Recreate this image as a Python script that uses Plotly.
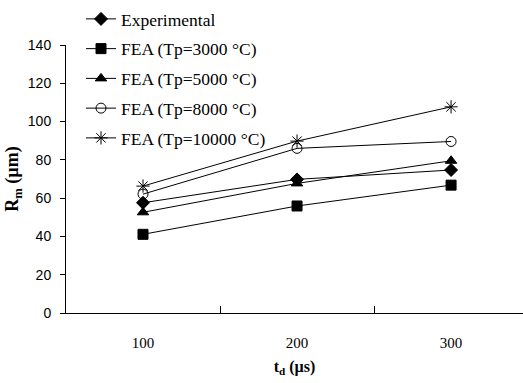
import plotly.graph_objects as go

categories = ["100", "200", "300"]
series_names = ["Experimental", "FEA (Tp=3000 °C)", "FEA (Tp=5000 °C)",
                "FEA (Tp=8000 °C)", "FEA (Tp=10000 °C)"]
experimental = [57.6, 69.8, 74.7]
fea_3000 = [41.1, 55.9, 66.8]
fea_5000 = [52.6, 67.7, 79.5]
fea_8000 = [62.1, 86.0, 89.6]
fea_10000 = [66.3, 89.8, 107.7]
y_ticks = [0, 20, 40, 60, 80, 100, 120, 140]

series = [experimental, fea_3000, fea_5000, fea_8000, fea_10000]
symbols = ["diamond", "square", "triangle-up", "circle-open", "asterisk-open"]
sizes = [10, 10, 10, 10, 11]

fig = go.Figure()
for i, (name, vals, sym, sz) in enumerate(zip(series_names, series, symbols, sizes)):
    fig.add_trace(go.Scatter(
        x=categories, y=vals, name=name, mode="lines+markers",
        line=dict(color="black", width=1),
        marker=dict(symbol=sym, size=sz, color="black",
                    line=dict(color="black", width=1)),
        legendgroup=f"g{i}",
    ))

fig.update_layout(
    width=523, height=383,
    margin=dict(l=66, r=0, t=45, b=70, autoexpand=False),
    paper_bgcolor="white", plot_bgcolor="white",
    font=dict(family="Liberation Serif", color="black"),
    legend=dict(
        x=(81-66)/457, y=1+44/268, xanchor="left", yanchor="top",
        font=dict(family="Liberation Serif", size=17.5, color="black"),
        bgcolor="rgba(0,0,0,0)", itemwidth=30, tracegroupgap=4,
    ),
    showlegend=True,
)
fig.update_xaxes(
    type="category", range=[-0.5, 2.467],
    showline=True, linecolor="black", linewidth=1,
    ticks="inside", ticklen=7, tickcolor="black", tickson="boundaries",
    ticklabelstandoff=16,
    showgrid=False, zeroline=False,
    tickfont=dict(family="Liberation Serif", size=15, color="black"),
    title=dict(text="<b>t<sub>d</sub> (µs)</b>", standoff=10,
               font=dict(family="Liberation Serif", size=16, color="black")),
)
fig.update_yaxes(
    range=[0, 140], tickvals=y_ticks,
    showline=True, linecolor="black", linewidth=1,
    ticks="outside", ticklen=5, tickcolor="black",
    ticklabelstandoff=6,
    showgrid=False, zeroline=False,
    tickfont=dict(family="Liberation Sans", size=14, color="black"),
    title=dict(text="<b>R<sub>m</sub> (µm)</b>", standoff=4,
               font=dict(family="Liberation Serif", size=18, color="black")),
)

fig.write_html("out.html")
